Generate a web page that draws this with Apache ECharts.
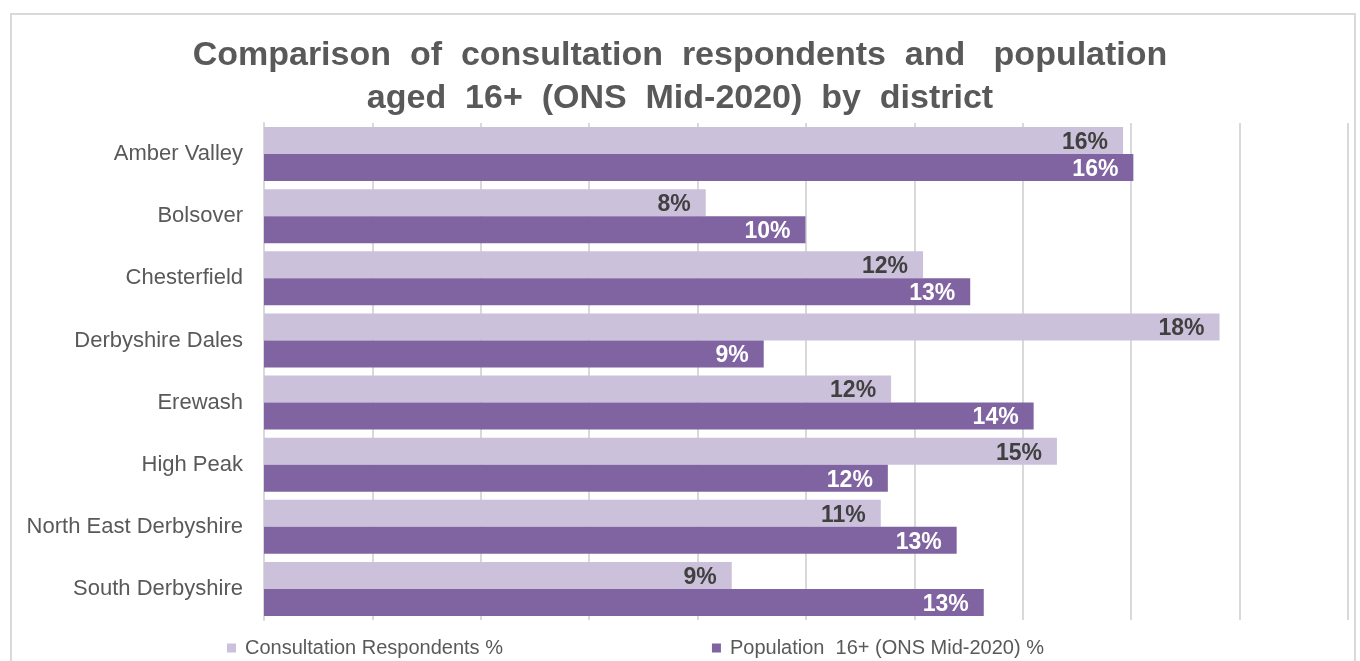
<!DOCTYPE html>
<html>
<head>
<meta charset="utf-8">
<title>Consultation respondents vs population</title>
<script src="https://cdn.jsdelivr.net/npm/echarts@6/dist/echarts.min.js"></script>
<style>
  html, body { margin: 0; padding: 0; background: #fff; }
  #main { width: 1360px; height: 661px; }
</style>
</head>
<body>
<div id="main"></div>
<script>
// districts, top to bottom
const districts = [
  'Amber Valley',
  'Bolsover',
  'Chesterfield',
  'Derbyshire Dales',
  'Erewash',
  'High Peak',
  'North East Derbyshire',
  'South Derbyshire'
]
// consultation respondents %
const respondents = [15.85, 8.15, 12.16, 17.63, 11.57, 14.63, 11.38, 8.63]
// population 16+ (ONS mid-2020) %
const population = [16.04, 9.99, 13.03, 9.22, 14.2, 11.51, 12.78, 13.28]

const seriesNames = ['Consultation Respondents %', 'Population  16+ (ONS Mid-2020) %']

const font = "'Liberation Sans', Arial, sans-serif"
const grey = '#595959'

const myChart = echarts.init(document.getElementById('main'))

const pctLabel = (color) => ({
  show: true,
  position: 'insideRight',
  distance: 15,
  offset: [0, 2],
  formatter: (p) => Math.round(p.value) + '%',
  color: color,
  fontFamily: font,
  fontWeight: 'bold',
  fontSize: 23
})

const option = {
  backgroundColor: '#fff',
  animation: false,
  title: {
    text: 'Comparison  of  consultation  respondents  and   population\naged  16+  (ONS  Mid-2020)  by  district',
    left: 'center',
    top: 29,
    textStyle: {
      fontFamily: font,
      fontWeight: 'bold',
      fontSize: 34,
      lineHeight: 43,
      color: grey
    }
  },
  graphic: [
    {
      type: 'rect',
      shape: { x: 11, y: 14, width: 1344, height: 700 },
      style: { fill: 'none', stroke: '#d9d9d9', lineWidth: 2 },
      silent: true
    }
  ],
  legend: {
    left: 222,
    top: 633,
    icon: 'rect',
    itemWidth: 9,
    itemHeight: 9,
    itemGap: 209,
    data: seriesNames,
    textStyle: {
      fontFamily: font,
      fontSize: 20,
      color: grey,
      padding: [0, 0, 0, 4]
    }
  },
  grid: {
    left: 264,
    right: 12,
    top: 123,
    bottom: 41,
    containLabel: false
  },
  xAxis: {
    type: 'value',
    min: 0,
    max: 20,
    interval: 2,
    axisLabel: { show: false },
    axisLine: { show: false },
    axisTick: { show: false },
    splitLine: { lineStyle: { color: '#d9d9d9', width: 2 } }
  },
  yAxis: {
    type: 'category',
    inverse: true,
    data: districts,
    axisLine: { show: true, lineStyle: { color: '#d9d9d9', width: 2 } },
    axisTick: { show: false },
    axisLabel: {
      fontFamily: font,
      fontSize: 22,
      color: grey,
      margin: 21,
      padding: [4, 0, 0, 0]
    }
  },
  series: [
    {
      name: seriesNames[0],
      type: 'bar',
      data: respondents,
      barWidth: 27,
      barGap: '0%',
      itemStyle: { color: '#ccc1da' },
      label: pctLabel('#404040')
    },
    {
      name: seriesNames[1],
      type: 'bar',
      data: population,
      barWidth: 27,
      itemStyle: { color: '#8064a2' },
      label: pctLabel('#ffffff')
    }
  ]
}

option && myChart.setOption(option)
</script>
</body>
</html>
